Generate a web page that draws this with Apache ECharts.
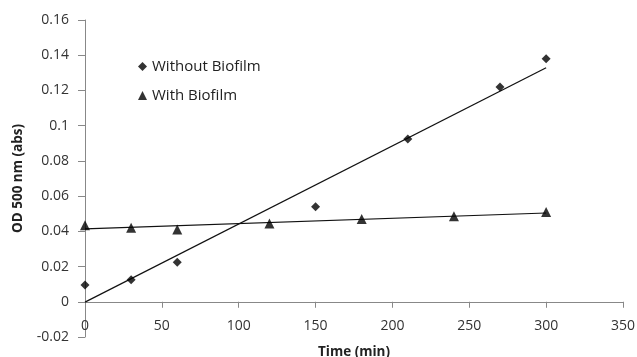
<!DOCTYPE html>
<html><head><meta charset="utf-8">
<script src="https://cdn.jsdelivr.net/npm/echarts@6/dist/echarts.min.js"></script>
<style>html,body{margin:0;padding:0;background:#fff}#c{width:637px;height:357px}</style>
</head><body><div id="c"></div>
<script>
const timeWithout = [0, 30, 60, 150, 210, 270, 300];
const odWithout = [0.0095, 0.0125, 0.0225, 0.054, 0.0925, 0.122, 0.138];
const timeWith = [0, 30, 60, 120, 180, 240, 300];
const odWith = [0.0435, 0.042, 0.041, 0.0445, 0.047, 0.0485, 0.051];
const seriesNames = ['Without Biofilm', 'With Biofilm'];

function fit(xs, ys) {
  const n = xs.length;
  const mx = xs.reduce((a, b) => a + b, 0) / n;
  const my = ys.reduce((a, b) => a + b, 0) / n;
  let sxy = 0, sxx = 0;
  for (let i = 0; i < n; i++) { sxy += (xs[i] - mx) * (ys[i] - my); sxx += (xs[i] - mx) ** 2; }
  const s = sxy / sxx, b = my - s * mx;
  const x0 = Math.min(...xs), x1 = Math.max(...xs);
  return [[x0, b + s * x0], [x1, b + s * x1]];
}
const pair = (xs, ys) => xs.map((x, i) => [x, ys[i]]);

const font = "'Open Sans', sans-serif";
const chart = echarts.init(document.getElementById('c'));
chart.setOption({
  animation: false,
  grid: { left: 85, right: 14, top: 20, bottom: 20, containLabel: false, outerBoundsMode: 'none' },
  legend: {
    data: seriesNames, orient: 'vertical', left: 133, top: 54, itemGap: 14,
    itemWidth: 9, itemHeight: 9,
    textStyle: { fontFamily: font, fontSize: 15, color: '#222' }
  },
  xAxis: {
    type: 'value', min: 0, max: 350, interval: 50,
    name: 'Time (min)', nameLocation: 'middle', nameGap: 8,
    nameTextStyle: { fontFamily: font, fontSize: 13.5, fontWeight: 'bold', color: '#222' },
    axisLine: { onZero: true, lineStyle: { color: '#888', width: 1 } },
    axisTick: { show: true, inside: false, length: 6, lineStyle: { color: '#888' } },
    axisLabel: { fontFamily: font, fontSize: 14, color: '#333', margin: -18 },
    splitLine: { show: false }
  },
  yAxis: {
    type: 'value', min: -0.02, max: 0.16, interval: 0.02,
    name: 'OD 500 nm (abs)', nameLocation: 'middle', nameGap: 60, nameRotate: 90,
    nameTextStyle: { fontFamily: font, fontSize: 13.5, fontWeight: 'bold', color: '#222' },
    axisLine: { show: true, onZero: false, lineStyle: { color: '#888', width: 1 } },
    axisTick: { show: true, length: 7, lineStyle: { color: '#888' } },
    axisLabel: { fontFamily: font, fontSize: 14, color: '#333', margin: 16,
      formatter: v => String(parseFloat(v.toFixed(2))) },
    splitLine: { show: false }
  },
  series: [
    { name: seriesNames[0], type: 'scatter', symbol: 'diamond', symbolSize: 9,
      itemStyle: { color: '#000' }, data: pair(timeWithout, odWithout), z: 3 },
    { name: seriesNames[1], type: 'scatter', symbol: 'triangle', symbolSize: 10,
      itemStyle: { color: '#000' }, data: pair(timeWith, odWith), z: 3 },
    { name: 'fit1', type: 'line', symbol: 'none', silent: true,
      lineStyle: { color: '#111', width: 1.2 }, data: fit(timeWithout, odWithout), z: 2 },
    { name: 'fit2', type: 'line', symbol: 'none', silent: true,
      lineStyle: { color: '#111', width: 1.2 }, data: fit(timeWith, odWith), z: 2 }
  ]
});
</script></body></html>
